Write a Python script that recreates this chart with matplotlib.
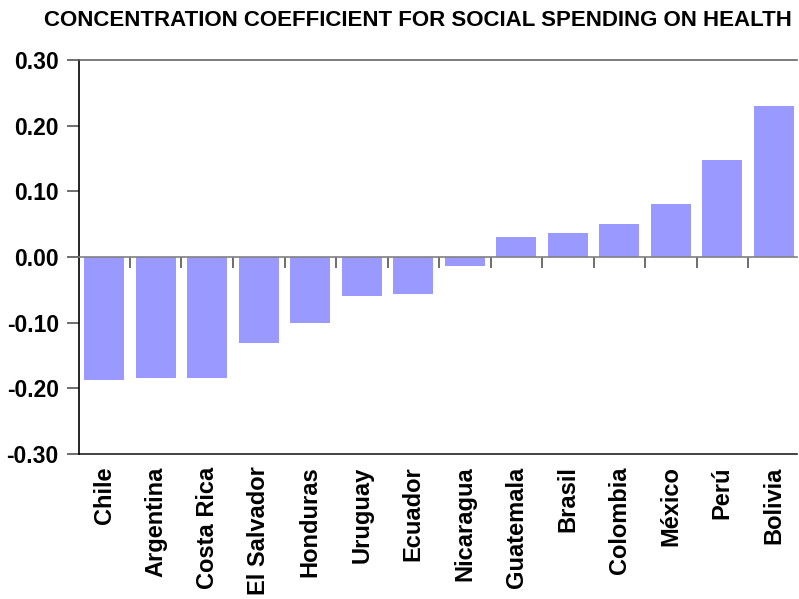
import matplotlib
matplotlib.use("Agg")
import matplotlib.pyplot as plt
from matplotlib import font_manager

countries = ["Chile", "Argentina", "Costa Rica", "El Salvador", "Honduras", "Uruguay",
             "Ecuador", "Nicaragua", "Guatemala", "Brasil", "Colombia", "México", "Perú", "Bolivia"]
values = [-0.187, -0.184, -0.184, -0.131, -0.101, -0.060, -0.057, -0.013,
          0.030, 0.037, 0.050, 0.080, 0.147, 0.230]
yticks = [-0.30, -0.20, -0.10, 0.00, 0.10, 0.20, 0.30]
title = "CONCENTRATION COEFFICIENT FOR SOCIAL SPENDING ON HEALTH"

plt.rcParams["font.family"] = ["Liberation Sans", "DejaVu Sans"]
plt.rcParams["font.weight"] = "bold"

fig = plt.figure(figsize=(7.99, 5.99), dpi=100)
ax = fig.add_axes([79/799, 1-454/599, (797-79)/799, (454-60)/599])

x = list(range(len(countries)))
ax.bar(x, values, width=0.78, color="#9999FF", zorder=2)

ax.set_xlim(-0.49, 13.45)
ax.set_ylim(-0.30, 0.30)

ax.set_yticks(yticks)
ax.set_yticklabels([f"{v:.2f}" for v in yticks], fontsize=16.5, fontweight="bold")
ax.tick_params(axis="y", direction="out", length=9, width=1.2, color="#555555", pad=5.5)

# zero line axis with boundary ticks
ax.spines["bottom"].set_position(("data", 0))
ax.spines["bottom"].set_color("#808080")
ax.spines["bottom"].set_linewidth(1.2)
ax.spines["bottom"].set_zorder(3)
ax.set_xticks([i + 0.5 for i in range(len(countries) - 1)])
ax.set_xticklabels([])
ax.tick_params(axis="x", direction="out", length=8, width=1.2, color="#555555")

ax.spines["top"].set_color("#666666")
ax.spines["top"].set_linewidth(1.2)
ax.spines["right"].set_visible(False)
ax.spines["left"].set_color("black")
ax.spines["left"].set_linewidth(1.2)

sec = ax.secondary_xaxis("bottom")
sec.set_xticks(x)
sec.set_xticklabels(countries, rotation=90, fontsize=17, fontweight="bold", va="top")
sec.tick_params(length=0, pad=9)
sec.spines["bottom"].set_color("#222222")
sec.spines["bottom"].set_linewidth(1.2)

fig.text(417.5/799, 1 - 20/599, title, ha="center", va="center",
         fontsize=16, fontweight="bold")

fig.savefig("out.png", dpi=100)
